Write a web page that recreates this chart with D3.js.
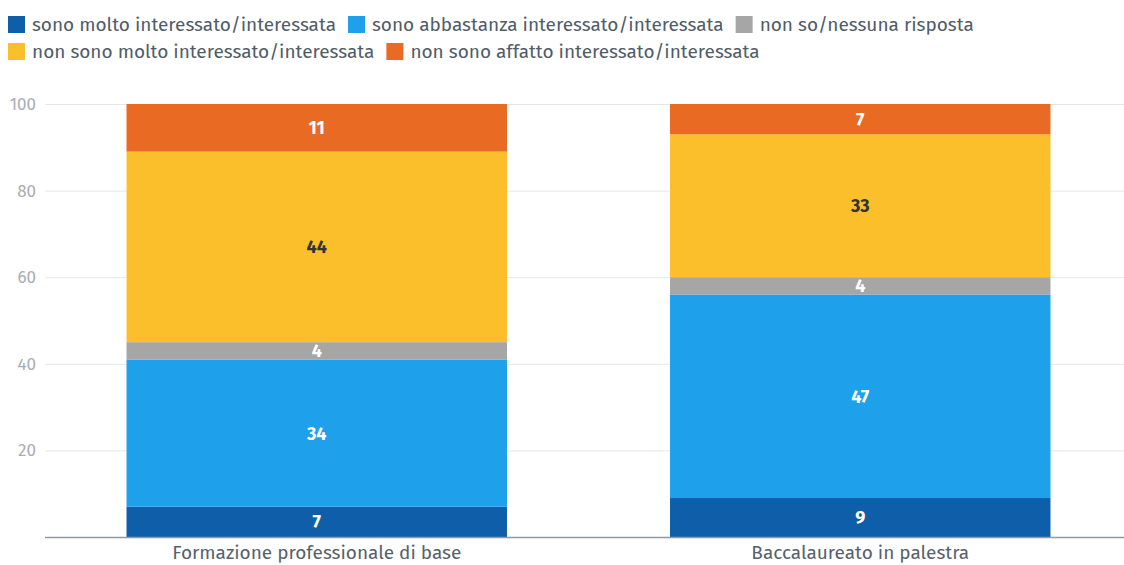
<!DOCTYPE html>
<html lang="it">
  <head>
    <meta charset="UTF-8" />
    <title>Interesse</title>
    <script src="https://d3js.org/d3.v7.min.js"></script>
    <style>
      body { margin: 0; background: #fff; }
      svg text { font-family: "Fira Sans", "Noto Sans", sans-serif; }
    </style>
  </head>
  <body>
    <div id="chart-container"></div>
    <script>
      // Data
      const categories = ["Formazione professionale di base", "Baccalaureato in palestra"];
      const seriesNames = [
        "sono molto interessato/interessata",
        "sono abbastanza interessato/interessata",
        "non so/nessuna risposta",
        "non sono molto interessato/interessata",
        "non sono affatto interessato/interessata"
      ];
      const molto = [7, 9];
      const abbastanza = [34, 47];
      const nonSo = [4, 4];
      const nonMolto = [44, 33];
      const affatto = [11, 7];
      const yTicks = [20, 40, 60, 80, 100];

      const colors = ["#0e5eaa", "#1fa0ea", "#a6a6a6", "#fbbf2b", "#e86a23"];
      const labelColors = ["#fff", "#fff", "#fff", "#333", "#fff"];
      const seriesValues = [molto, abbastanza, nonSo, nonMolto, affatto];

      const width = 1124, height = 565;
      const svg = d3.select("#chart-container").append("svg")
        .attr("width", width).attr("height", height);

      const x = d3.scaleBand().domain(categories)
        .range([45, 1132]).paddingInner(0.3).paddingOuter(0.15);
      const y = d3.scaleLinear().domain([0, 100]).range([537, 104]);

      // gridlines + y labels
      const yAxis = d3.axisLeft(y).tickValues(yTicks).tickSize(-(width - 45)).tickPadding(9);
      const gy = svg.append("g").attr("transform", "translate(45,0)").call(yAxis);
      gy.select(".domain").remove();
      gy.selectAll(".tick line").attr("stroke", "#e6e6e6");
      gy.selectAll(".tick text").attr("fill", "#a9adb2").attr("font-size", 17);

      // stack
      const table = categories.map((c, i) => {
        const row = { cat: c };
        seriesNames.forEach((s, k) => row[s] = seriesValues[k][i]);
        return row;
      });
      const stacked = d3.stack().keys(seriesNames)(table);

      const layers = svg.append("g").selectAll("g").data(stacked).enter().append("g")
        .attr("fill", (d, k) => colors[k]);
      layers.selectAll("rect").data(d => d).enter().append("rect")
        .attr("x", d => x(d.data.cat))
        .attr("width", x.bandwidth())
        .attr("y", d => y(d[1]))
        .attr("height", d => y(d[0]) - y(d[1]));

      // value labels
      stacked.forEach((layer, k) => {
        svg.append("g").selectAll("text").data(layer).enter().append("text")
          .attr("x", d => x(d.data.cat) + x.bandwidth() / 2)
          .attr("y", d => (y(d[0]) + y(d[1])) / 2)
          .attr("dy", "0.36em")
          .attr("text-anchor", "middle")
          .attr("font-size", 18)
          .attr("font-weight", "bold")
          .attr("fill", labelColors[k])
          .text(d => d[1] - d[0]);
      });

      // x axis
      const xAxis = d3.axisBottom(x).tickSize(0).tickPadding(9);
      const gx = svg.append("g").attr("transform", "translate(0,537)").call(xAxis);
      gx.select(".domain").attr("d", "M45,0.5H" + width).attr("stroke", "#8e99a3").attr("stroke-width", 1.5);
      gx.selectAll(".tick text").attr("fill", "#56616c").attr("font-size", 19);

      // legend
      const legend = svg.append("g");
      let lx = 8, ly = 16;
      seriesNames.forEach((s, k) => {
        const item = legend.append("g");
        item.append("rect").attr("width", 17).attr("height", 17).attr("fill", colors[k]);
        const t = item.append("text").attr("x", 24).attr("y", 15)
          .attr("font-size", 19).attr("fill", "#4f5c69").text(s);
        const w = 24 + t.node().getComputedTextLength() + 12;
        if (lx + w > width - 20) { lx = 8; ly += 27; }
        item.attr("transform", "translate(" + lx + "," + ly + ")");
        lx += w;
      });
    </script>
  </body>
</html>
